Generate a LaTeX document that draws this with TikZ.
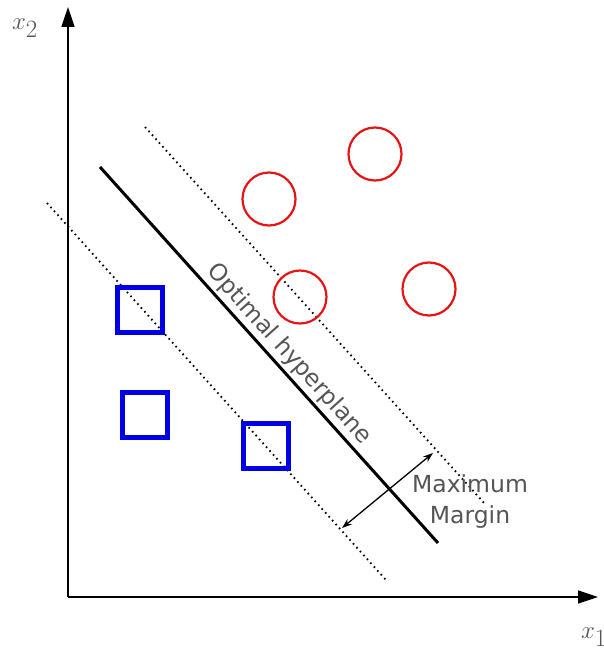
\documentclass[tikz,border=0pt]{standalone}
\usepackage{fontspec}
\setmainfont{DejaVu Sans}
\usetikzlibrary{arrows.meta}
\definecolor{txtgray}{RGB}{85,85,85}
\definecolor{cred}{RGB}{230,20,20}
\definecolor{cblue}{RGB}{0,0,230}
\begin{document}
\begin{tikzpicture}[x=1pt,y=-1pt,
  axis/.style={line width=1.6pt,-{Triangle[length=20pt,width=13pt]}},
  hyper/.style={line width=3pt},
  marginline/.style={line width=1.8pt,dash pattern=on 1.6pt off 3.6pt},
  redpt/.style={circle,draw=cred,line width=2.2pt,minimum size=53pt,inner sep=0pt},
  bluept/.style={rectangle,draw=cblue,line width=5pt,minimum size=45pt,inner sep=0pt},
  lbl/.style={text=txtgray,font=\fontsize{23.5}{31}\selectfont},
  axlbl/.style={text=txtgray,font=\fontsize{34}{36}\selectfont}]
\useasboundingbox (0,0) rectangle (603,655);
% axes
\coordinate (O) at (68,597);
\coordinate (ytip) at (68,7);
\coordinate (xtip) at (598,597);
\draw[axis] (O) -- (ytip);
\draw[axis] (O) -- (xtip);
\node[axlbl,inner sep=0pt] (lx2) at (25,28) {$x_2$};
\node[axlbl,inner sep=0pt] (lx1) at (594,637) {$x_1$};
% lines
\coordinate (h1) at (100,167);
\coordinate (h2) at (438,543);
\draw[hyper] (h1) -- (h2);
\coordinate (u1) at (145,127);
\coordinate (u2) at (485,504);
\draw[marginline] (u1) -- (u2);
\coordinate (l1) at (47,203);
\coordinate (l2) at (386,580);
\draw[marginline] (l1) -- (l2);
% points
\node[redpt] (c1) at (269,199) {};
\node[redpt] (c2) at (375,154) {};
\node[redpt] (c3) at (300,297) {};
\node[redpt] (c4) at (429,289) {};
\node[bluept] (s1) at (140,310) {};
\node[bluept] (s2) at (145,415) {};
\node[bluept] (s3) at (266,446) {};
% margin arrow
\coordinate (m1) at (342,528);
\coordinate (m2) at (433,453);
\draw[line width=1.3pt,{Stealth[length=10pt,width=7pt]}-{Stealth[length=10pt,width=7pt]}] (m1) -- (m2);
% labels
\node[lbl,rotate=-48] (hyp) at (289,354) {Optimal hyperplane};
\node[lbl,align=center] (mm) at (470,502) {Maximum\\Margin};
\end{tikzpicture}
\end{document}
